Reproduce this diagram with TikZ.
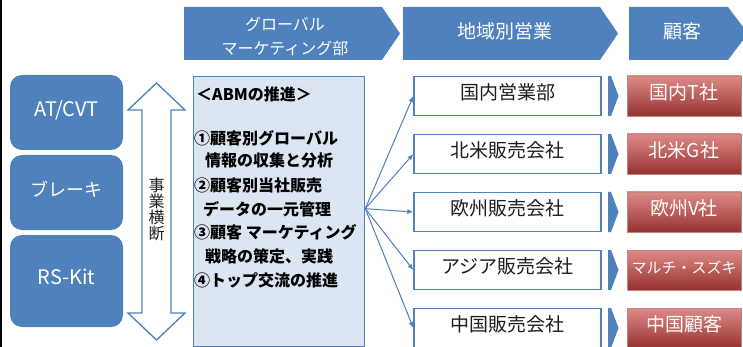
\documentclass[tikz,border=0pt]{standalone}
\usepackage{fontspec}
\setmainfont{Noto Sans CJK JP}
\usetikzlibrary{arrows.meta}
\definecolor{hdr}{RGB}{79,129,189}
\definecolor{pale}{RGB}{220,230,242}
\definecolor{redtop}{RGB}{222,138,135}
\definecolor{redbot}{RGB}{150,50,48}
\definecolor{txtdark}{RGB}{30,30,30}
\tikzset{
  hdrshape/.style={fill=hdr, draw=none},
  hdrtext/.style={text=white, inner sep=0, font=\fontsize{19}{22}\selectfont, text height=0.75em, text depth=0pt},
  leftbox/.style={rounded corners=12pt, fill=hdr, draw=none, text=white, minimum width=113pt, inner sep=0, font=\fontsize{20}{22}\selectfont, text height=0.72em, text depth=0pt},
  regbox/.style={draw=hdr, line width=1.3pt, fill=white, minimum width=187pt, minimum height=39pt, inner sep=0, text=txtdark, font=\fontsize{19}{22}\selectfont, text height=0.75em, text depth=0pt},
  custbox/.style={top color=redtop, bottom color=redbot, draw=redbot!60, line width=0.4pt, minimum width=114pt, minimum height=40pt, inner sep=0, text=white, font=\fontsize{19}{22}\selectfont, text height=0.75em, text depth=0pt},
  fanarrow/.style={draw=hdr, line width=1pt, -{Latex[length=6pt,width=5pt]}},
  abm/.style={anchor=west, inner sep=0, font=\bfseries\fontsize{16}{18}\selectfont, text height=0.75em, text depth=0pt},
  pointer/.style={fill=hdr, draw=none},
}
\begin{document}
\begin{tikzpicture}[x=1pt,y=-1pt]
\useasboundingbox (0,0) rectangle (743,347);
\clip (0,0) rectangle (743,347);
\fill[white] (0,0) rectangle (743,347);
\draw[line width=1.6pt, black] (0.8,0) -- (0.8,347);

% header chevrons
\fill[hdrshape] (184,7) -- (382,7) -- (400,33.5) -- (382,60) -- (184,60) -- cycle;
\fill[hdrshape] (403,7) -- (600,7) -- (618,33.5) -- (600,60) -- (403,60) -- cycle;
\fill[hdrshape] (629,7) -- (728,7) -- (748,33.5) -- (728,60) -- (629,60) -- cycle;
\node[hdrtext, align=center, font=\fontsize{16}{24}\selectfont, text height=, text depth=] (h1) at (285,36) {グローバル\\マーケティング部};
\node[hdrtext] (h2) at (505,35) {地域別営業};
\node[hdrtext] (h3) at (682,35) {顧客};

% left product boxes
\node[leftbox, minimum height=75pt] (p1) at (66.5,112.5) {AT/CVT};
\node[leftbox, minimum height=75pt, font=\fontsize{18}{20}\selectfont] (p2) at (66.5,192.5) {ブレーキ};
\node[leftbox, minimum height=92pt] (p3) at (66.5,281) {RS-Kit};

% double arrow
\filldraw[fill=white, draw=hdr, line width=1.3pt, line join=miter]
  (156.5,83) -- (185,110) -- (171,110) -- (171,313) -- (185,313) -- (156.5,340)
  -- (128,313) -- (142,313) -- (142,110) -- (128,110) -- cycle;
\node[inner sep=0, align=center, font=\fontsize{16}{16}\selectfont, text=txtdark] (cross) at (156.5,209) {事\\業\\横\\断};

% ABM box
\node[draw=hdr, fill=pale, line width=1.3pt, minimum width=171pt, minimum height=270pt, anchor=north west, inner sep=0] (abmbox) at (193,76) {};
\node[abm] (t0) at (196,97) {＜ABMの推進＞};
\node[abm] (t1) at (194,141) {①顧客別グローバル};
\node[abm] (t2) at (205,163) {情報の収集と分析};
\node[abm] (t3) at (194,188) {②顧客別当社販売};
\node[abm] (t4) at (203,212) {データの一元管理};
\node[abm] (t5) at (194,235) {③顧客 マーケティング};
\node[abm] (t6) at (205,259) {戦略の策定、実践};
\node[abm] (t7) at (194,283) {④トップ交流の推進};

% regional sales boxes
\node[regbox] (r1) at (507.5,96) {国内営業部};
\node[regbox] (r2) at (507.5,154) {北米販売会社};
\node[regbox] (r3) at (507.5,212) {欧州販売会社};
\node[regbox] (r4) at (507.5,270) {アジア販売会社};
\node[regbox] (r5) at (507.5,328) {中国販売会社};

% fan arrows
\coordinate (fan) at ([yshift=3pt]abmbox.east);
\foreach \r in {r1,r2,r3,r4,r5} \draw[fanarrow] (fan) -- (\r.west);

% small pointers
\foreach \yc in {96,154,212,270,328}
  \fill[pointer] (608,\yc-20) -- (611,\yc-20) -- (618.5,\yc) -- (611,\yc+20) -- (608,\yc+20) -- cycle;

% customer boxes
\node[custbox] (c1) at (684,96) {国内T社};
\node[custbox] (c2) at (684,154) {北米G社};
\node[custbox] (c3) at (684,212) {欧州V社};
\node[custbox, font=\fontsize{15}{18}\selectfont] (c4) at (684,270) {マルチ・スズキ};
\node[custbox] (c5) at (684,328) {中国顧客};
\end{tikzpicture}
\end{document}
